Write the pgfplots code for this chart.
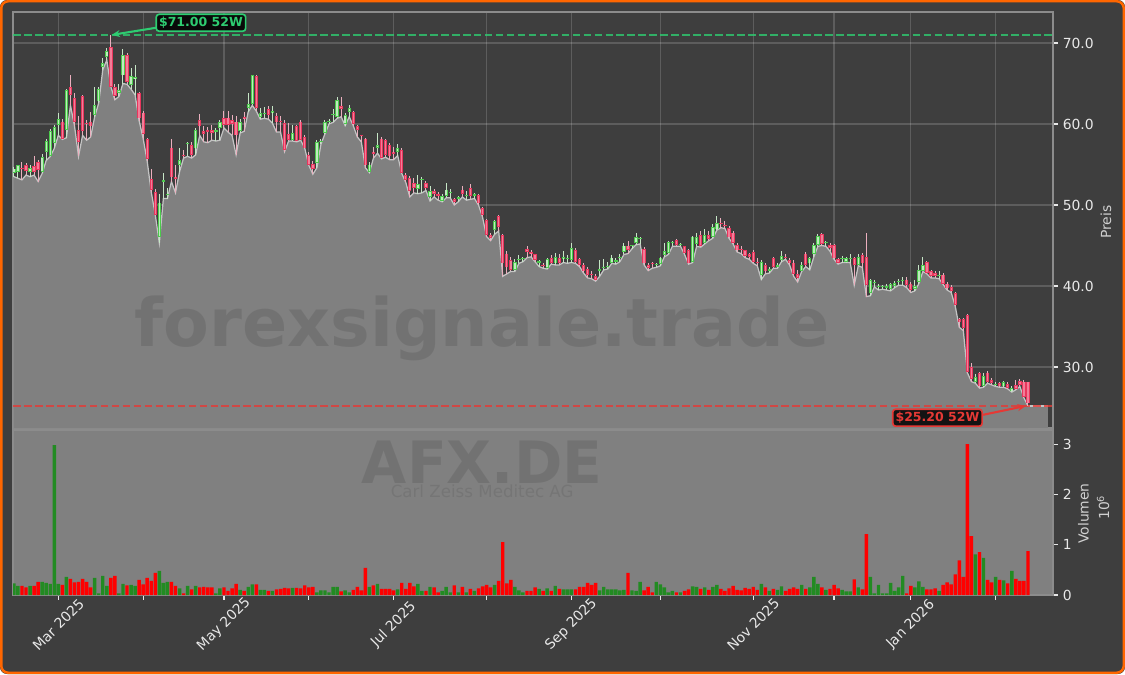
\documentclass[border=0pt]{standalone}
\usepackage{pgfplots}
\pgfplotsset{compat=1.18}
\usepackage{pgfplotstable}
\usepackage{fontspec}
\setmainfont{DejaVu Sans}
\usetikzlibrary{arrows.meta}

\definecolor{figbg}{HTML}{3E3E3E}
\definecolor{frameorange}{HTML}{FF6600}
\definecolor{areagray}{HTML}{808080}
\definecolor{arealine}{HTML}{C4C4C4}
\definecolor{spine}{HTML}{8C8C8C}
\definecolor{ticktext}{HTML}{E8E8E8}
\definecolor{labeltext}{HTML}{D0D0D0}
\definecolor{upedge}{HTML}{4CC94C}
\definecolor{upfill}{HTML}{BFEBBF}
\definecolor{upwick}{HTML}{C6E6C6}
\definecolor{dnedge}{HTML}{E8365D}
\definecolor{dnfill}{HTML}{F27D98}
\definecolor{dnwick}{HTML}{EBAFBE}
\definecolor{volgreen}{HTML}{228B22}
\definecolor{volred}{HTML}{FF0000}
\definecolor{higreen}{HTML}{2ECC71}
\definecolor{lored}{HTML}{E53935}

% i = trading day index (0 = 14 Feb 2025), volume v in millions
\pgfplotstableread{
i o h l c v
0 54.0 54.7 53.5 54.5 0.23
1 54.1 54.9 53.3 54.9 0.18
2 54.6 55.3 53.1 54.4 0.18
3 54.9 55.2 53.7 54.2 0.15
4 54.1 54.9 53.5 54.6 0.18
5 54.8 56.0 53.7 54.1 0.18
6 55.3 55.6 52.9 54.3 0.26
7 54.1 56.3 53.9 55.9 0.26
8 56.6 58.2 55.5 57.9 0.24
9 56.1 59.4 56.0 59.1 0.22
10 57.7 59.9 57.0 59.6 2.98
11 59.9 61.3 58.6 60.6 0.22
12 60.3 60.6 58.1 58.2 0.20
13 59.3 64.3 58.3 64.2 0.36
14 64.6 66.0 62.3 63.6 0.32
15 63.2 63.8 59.8 60.3 0.25
16 59.2 61.0 56.0 57.8 0.26
17 63.4 63.6 58.6 59.1 0.32
18 60.1 60.5 58.0 60.0 0.26
19 60.3 61.5 58.4 59.7 0.15
20 61.1 64.6 60.9 62.3 0.34
21 62.8 64.6 62.6 64.3 0.03
22 67.1 68.1 66.7 67.5 0.38
23 68.3 69.4 67.9 69.0 0.18
24 69.5 71.0 64.6 64.6 0.34
25 64.6 65.0 63.0 63.5 0.38
26 63.8 65.0 63.4 64.2 0.03
27 66.0 69.3 65.0 68.5 0.22
28 68.5 68.8 64.9 65.2 0.19
29 64.8 66.9 64.3 65.9 0.20
30 65.5 67.3 63.6 65.8 0.18
31 63.8 64.0 60.4 60.7 0.30
32 61.4 61.6 58.2 58.8 0.21
33 58.1 58.3 55.4 55.7 0.34
34 53.2 54.5 51.6 51.9 0.28
35 51.6 52.0 48.8 48.8 0.44
36 46.1 51.3 45.3 50.3 0.48
37 52.9 53.9 50.8 53.1 0.24
38 51.2 52.1 50.8 51.4 0.26
39 57.1 58.2 52.9 53.4 0.26
40 53.5 54.9 51.5 53.2 0.18
41 55.0 57.0 54.1 55.5 0.13
42 56.2 56.8 55.8 56.0 0.03
43 57.5 57.8 56.0 57.6 0.18
44 57.4 57.8 55.8 56.2 0.11
45 57.0 59.5 56.2 59.2 0.18
46 60.5 61.2 58.6 59.7 0.15
47 59.1 59.7 57.8 58.8 0.16
48 59.2 59.6 57.7 59.0 0.15
49 59.2 59.9 58.0 58.9 0.15
50 59.0 59.5 57.9 59.2 0.03
51 59.5 60.5 58.0 60.2 0.13
52 60.7 61.6 59.5 59.9 0.15
53 60.8 61.6 59.0 59.9 0.08
54 60.5 61.1 58.6 60.0 0.13
55 60.3 61.0 56.2 58.6 0.22
56 59.1 60.6 58.9 60.2 0.10
57 60.9 61.5 59.1 60.6 0.08
58 62.0 63.8 61.5 62.5 0.16
59 62.5 66.0 62.3 66.0 0.21
60 65.9 66.0 61.6 62.0 0.21
61 60.9 62.0 60.6 61.3 0.10
62 61.2 62.1 60.7 61.4 0.10
63 61.8 62.2 60.6 61.1 0.08
64 61.3 62.2 60.1 61.6 0.08
65 61.0 61.4 59.0 60.2 0.11
66 60.4 61.0 59.0 60.3 0.12
67 60.1 60.5 56.6 56.8 0.14
68 58.8 60.1 57.9 58.0 0.13
69 58.0 59.9 57.9 58.9 0.14
70 59.7 59.9 57.8 57.9 0.14
71 60.3 60.5 58.0 58.0 0.13
72 58.4 58.6 57.0 57.0 0.19
73 56.2 56.6 54.9 55.0 0.15
74 55.1 55.4 53.8 54.5 0.16
75 55.2 58.0 54.6 57.8 0.05
76 57.8 58.2 57.5 57.9 0.09
77 58.9 60.5 58.8 60.2 0.09
78 60.2 60.6 60.0 60.4 0.05
79 61.1 61.8 60.2 61.2 0.16
80 60.9 63.3 60.7 63.0 0.16
81 62.2 63.3 60.9 61.9 0.07
82 60.0 61.3 59.8 61.1 0.09
83 61.5 62.4 60.9 62.0 0.05
84 61.5 61.6 59.8 60.0 0.10
85 59.7 59.9 58.4 59.3 0.16
86 58.6 58.7 57.8 58.5 0.09
87 58.2 58.3 54.6 54.9 0.54
88 54.1 55.3 54.0 55.0 0.16
89 56.6 57.2 55.8 56.3 0.19
90 57.1 58.9 56.4 57.4 0.22
91 58.2 58.4 55.7 55.8 0.12
92 58.0 58.2 55.9 56.2 0.12
93 57.4 57.6 55.6 56.0 0.12
94 56.6 57.2 55.6 56.3 0.09
95 56.6 57.5 56.1 57.0 0.11
96 56.8 57.0 53.9 54.0 0.24
97 53.7 54.0 52.8 53.1 0.12
98 53.3 53.6 51.0 51.7 0.24
99 52.7 53.3 51.5 52.1 0.17
100 52.0 53.7 51.4 52.6 0.22
101 53.1 53.5 51.5 53.1 0.08
102 52.7 53.0 51.8 52.1 0.08
103 51.0 52.3 50.5 51.7 0.16
104 51.7 52.0 51.0 51.4 0.15
105 51.3 51.6 50.6 51.2 0.05
106 50.5 51.3 50.4 51.1 0.08
107 51.1 52.7 50.9 51.9 0.16
108 51.5 52.0 50.9 51.6 0.05
109 50.7 50.9 50.0 50.4 0.19
110 50.8 51.1 50.4 50.8 0.05
111 51.9 52.4 51.0 51.4 0.16
112 51.1 51.7 50.6 51.2 0.05
113 52.1 52.6 50.7 51.1 0.12
114 51.1 51.5 50.8 51.3 0.08
115 51.2 51.3 50.0 50.2 0.13
116 49.6 49.8 48.5 48.8 0.17
117 48.1 48.3 46.1 46.3 0.20
118 46.3 46.6 45.6 45.9 0.15
119 46.9 48.1 46.4 48.0 0.20
120 48.6 48.8 46.8 47.3 0.28
121 46.3 46.4 41.2 42.8 1.05
122 44.0 44.3 41.5 42.3 0.23
123 43.2 43.6 41.8 42.0 0.30
124 42.0 43.3 41.8 43.0 0.16
125 43.2 43.8 42.8 43.3 0.09
126 43.3 43.6 43.0 43.4 0.05
127 44.6 44.9 43.5 44.2 0.08
128 44.2 44.4 43.6 43.9 0.08
129 43.9 44.0 43.0 43.2 0.15
130 42.9 43.2 42.4 42.9 0.12
131 42.6 42.9 42.2 42.5 0.08
132 42.2 43.4 42.1 43.3 0.13
133 43.4 43.8 42.7 42.9 0.08
134 42.8 44.1 42.6 43.6 0.18
135 43.4 44.0 42.6 42.9 0.12
136 43.3 44.3 42.9 43.6 0.11
137 43.3 43.8 42.8 43.3 0.11
138 43.2 45.3 42.9 44.7 0.11
139 44.4 44.7 42.8 43.0 0.11
140 43.3 43.5 42.4 42.6 0.16
141 42.6 42.8 41.6 41.8 0.16
142 42.1 42.3 41.0 41.4 0.24
143 41.5 41.8 40.9 41.4 0.20
144 41.2 41.5 40.6 40.8 0.24
145 41.9 43.2 41.2 42.0 0.09
146 42.2 43.3 42.0 42.4 0.16
147 42.3 43.0 42.1 42.5 0.11
148 42.9 43.8 42.8 43.5 0.11
149 43.0 43.4 42.7 43.2 0.11
150 43.4 44.0 43.0 43.6 0.09
151 44.2 45.3 43.9 45.0 0.10
152 45.0 45.5 44.0 44.5 0.44
153 44.9 45.1 44.6 44.9 0.09
154 45.3 46.5 45.1 46.0 0.08
155 45.8 46.0 45.2 45.8 0.26
156 44.6 44.8 42.6 42.8 0.09
157 42.6 42.9 41.9 42.2 0.16
158 42.8 43.0 42.2 42.7 0.05
159 42.6 42.9 42.3 42.6 0.26
160 42.7 43.6 42.5 43.5 0.21
161 43.8 45.3 43.6 44.3 0.15
162 44.1 45.5 43.9 45.4 0.05
163 45.3 45.6 44.9 45.4 0.08
164 45.7 45.8 44.9 45.1 0.05
165 45.1 45.3 44.9 45.1 0.05
166 44.9 45.0 43.9 44.1 0.08
167 44.4 44.6 42.7 42.8 0.11
168 43.0 46.2 42.9 46.1 0.17
169 45.2 46.6 44.9 46.0 0.16
170 46.3 46.8 44.8 45.0 0.12
171 45.3 47.1 45.2 46.3 0.15
172 46.3 46.8 45.6 45.8 0.10
173 46.1 47.6 45.9 47.3 0.16
174 47.0 48.6 46.9 47.8 0.20
175 47.8 48.4 47.2 47.6 0.12
176 47.5 48.0 47.1 47.4 0.08
177 47.2 47.4 45.9 46.0 0.13
178 46.6 46.8 45.2 45.3 0.18
179 45.1 45.3 44.2 44.4 0.10
180 44.6 45.0 44.0 44.4 0.09
181 44.4 44.5 43.5 43.7 0.14
182 43.9 44.1 43.3 43.6 0.12
183 44.2 44.4 42.8 43.0 0.16
184 43.0 43.4 42.5 42.9 0.10
185 41.4 43.2 40.8 43.0 0.22
186 42.6 42.8 41.5 41.8 0.15
187 41.9 42.3 41.6 42.0 0.08
188 43.4 43.6 42.2 42.4 0.12
189 42.4 42.8 42.2 42.6 0.10
190 43.2 44.3 43.0 43.7 0.17
191 43.6 44.0 43.3 43.5 0.08
192 43.2 43.4 42.6 42.8 0.12
193 42.9 43.2 41.2 41.5 0.15
194 41.5 42.0 40.5 41.0 0.12
195 41.9 43.0 41.8 42.6 0.20
196 44.0 44.2 42.4 42.6 0.12
197 42.8 43.6 42.0 43.4 0.15
198 44.0 45.3 43.6 45.1 0.36
199 45.1 46.4 44.9 46.2 0.22
200 46.4 46.6 45.0 45.2 0.15
201 45.3 45.6 44.9 45.4 0.10
202 45.1 45.3 44.3 44.7 0.12
203 45.1 45.2 43.3 43.4 0.20
204 43.3 43.5 42.7 42.9 0.13
205 43.3 43.7 42.9 43.3 0.10
206 43.0 43.6 42.9 43.4 0.07
207 43.3 43.9 42.9 43.5 0.07
208 43.4 43.6 40.1 42.6 0.31
209 42.6 44.0 42.5 43.6 0.15
210 43.8 44.1 42.3 42.8 0.11
211 43.6 46.6 38.7 40.1 1.21
212 39.1 40.9 38.8 40.7 0.36
213 40.4 40.7 39.9 40.4 0.03
214 39.9 40.2 39.5 40.0 0.20
215 39.9 40.1 39.6 39.9 0.03
216 39.8 40.2 39.5 39.9 0.03
217 39.6 40.4 39.4 40.2 0.24
218 40.0 40.6 39.8 40.4 0.08
219 40.5 40.9 40.1 40.5 0.15
220 40.6 41.1 40.1 40.7 0.38
221 40.8 41.1 39.8 40.1 0.03
222 40.3 40.5 39.2 39.5 0.18
223 39.6 40.7 39.4 40.0 0.15
224 40.5 42.6 40.3 42.0 0.27
225 41.9 43.6 41.8 42.6 0.16
226 43.0 43.1 41.5 41.6 0.11
227 41.8 42.0 41.0 41.2 0.11
228 41.6 41.9 41.0 41.2 0.13
229 41.2 41.9 40.9 41.3 0.08
230 41.4 41.6 40.2 40.3 0.20
231 40.3 40.5 39.5 39.7 0.25
232 39.9 40.1 39.2 39.4 0.21
233 39.1 39.2 37.5 37.7 0.41
234 35.9 36.1 34.9 35.5 0.69
235 35.9 36.0 34.5 34.8 0.36
236 36.4 36.5 29.3 29.4 3.00
237 30.0 30.5 28.2 28.5 1.17
238 28.2 29.1 28.0 28.8 0.81
239 29.2 29.4 27.4 27.6 0.85
240 27.7 29.2 27.5 28.9 0.74
241 29.3 29.5 28.0 28.2 0.30
242 28.4 28.7 27.8 28.0 0.25
243 27.8 28.2 27.6 27.9 0.36
244 28.0 28.2 27.5 27.6 0.30
245 27.6 28.3 27.5 28.1 0.29
246 27.9 28.1 27.3 27.4 0.23
247 27.0 27.6 26.9 27.4 0.48
248 27.8 28.4 27.2 27.3 0.32
249 28.3 28.5 27.6 27.8 0.28
250 28.2 28.4 26.2 26.3 0.28
251 28.2 28.2 25.2 25.5 0.87
}\ohlc

\pgfplotsset{
  upsel/.style={restrict expr to domain={\thisrow{c}-\thisrow{o}}{0:1000}},
  dnsel/.style={restrict expr to domain={\thisrow{c}-\thisrow{o}}{-1000:-0.0001}},
  monthticks/.style={xtick={11,32,52,73,94,117,138,160,183,203,222,243}},
}

\begin{document}
\begin{tikzpicture}
\useasboundingbox (0,0) rectangle (810pt,485.28pt);
\fill[figbg, rounded corners=5pt] (0,0) rectangle (810pt,485.28pt);
\draw[frameorange, line width=1.8pt, rounded corners=5pt] (0.9pt,0.9pt) rectangle (809.1pt,484.38pt);

% price panel
\begin{axis}[
  at={(9.36pt,177.12pt)}, anchor=south west,
  width=748.8pt, height=299.52pt, scale only axis,
  xmin=-0.22, xmax=257.2, ymin=22.47, ymax=73.83,
  clip mode=individual,
  axis line style={draw=spine, line width=0.8pt},
  monthticks, xticklabel={}, xtick style={draw=none},
  ytick={30,40,50,60,70}, yticklabels={30.0,40.0,50.0,60.0,70.0},
  ytick pos=right, yticklabel pos=right,
  tick align=outside, major tick length=3.5pt,
  ytick style={draw=ticktext, line width=0.8pt},
  tick label style={font=\fontsize{10}{12}\selectfont, text=ticktext},
  grid=major, major grid style={draw=white, opacity=0.16, line width=0.8pt},
]
\addplot[fill=areagray, draw=none] table[x=i, y=l] {\ohlc} \closedcycle;
\addplot[fill=areagray, draw=none] coordinates {(251,25.2) (256,25.2)} \closedcycle;
\addplot[arealine, line width=0.9pt] table[x=i, y=l] {\ohlc};
\addplot[arealine, line width=0.9pt] coordinates {(251,25.2) (256,25.2)};

\addplot[higreen, opacity=0.8, line width=1.5pt, dash pattern=on 5.5pt off 2.4pt]
  coordinates {(-0.22,71) (257.2,71)};
\addplot[lored, opacity=0.8, line width=1.5pt, dash pattern=on 5.5pt off 2.4pt]
  coordinates {(-0.22,25.2) (257.2,25.2)};

% wicks
\addplot[upwick, line width=0.7pt, upsel, quiver={u=0, v={\thisrow{h}-\thisrow{l}}}]
  table[x=i, y=l] {\ohlc};
\addplot[dnwick, line width=0.7pt, dnsel, quiver={u=0, v={\thisrow{h}-\thisrow{l}}}]
  table[x=i, y=l] {\ohlc};
% bodies
\addplot[upedge, line width=2.4pt, upsel, quiver={u=0, v={max(\thisrow{c}-\thisrow{o},0.14)}}]
  table[x=i, y=o] {\ohlc};
\addplot[dnedge, line width=2.4pt, dnsel, quiver={u=0, v={min(\thisrow{c}-\thisrow{o},-0.14)}}]
  table[x=i, y=o] {\ohlc};
\addplot[upfill, line width=1.0pt, upsel, quiver={u=0, v={max(\thisrow{c}-\thisrow{o}-0.2,0)}}]
  table[x=i, y expr=\thisrow{o}+0.1] {\ohlc};
\addplot[dnfill, line width=1.0pt, dnsel, quiver={u=0, v={min(\thisrow{c}-\thisrow{o}+0.2,0)}}]
  table[x=i, y expr=\thisrow{o}-0.1] {\ohlc};

\node[text=black, text opacity=0.1, font=\bfseries\fontsize{48}{50}\selectfont]
  at (axis cs:115.9,34.8) {forexsignale.trade};

\draw[higreen, line width=1.5pt, -{Stealth[length=6pt,width=5pt]}]
  (axis cs:35.4,71.9) -- (axis cs:24.2,71.0);
\node[fill=black, fill opacity=0.85, text opacity=1, draw=higreen, draw opacity=1,
  line width=1.2pt, rounded corners=2pt, inner sep=2pt, text=higreen,
  font=\bfseries\fontsize{9}{10}\selectfont] at (axis cs:46.3,72.5) {\$71.00 52W};
\draw[lored, line width=1.5pt, -{Stealth[length=6pt,width=5pt]}]
  (axis cs:239.9,24.1) -- (axis cs:250.5,25.2);
\node[fill=black, fill opacity=0.85, text opacity=1, draw=lored, draw opacity=1,
  line width=1.2pt, rounded corners=2pt, inner sep=2pt, text=lored,
  font=\bfseries\fontsize{9}{10}\selectfont] at (axis cs:228.6,23.74) {\$25.20 52W};
\end{axis}

% volume panel
\begin{axis}[
  at={(9.36pt,56.88pt)}, anchor=south west,
  width=748.8pt, height=118.8pt, scale only axis,
  xmin=-0.22, xmax=257.2, ymin=0, ymax=3.28,
  axis background/.style={fill=areagray},
  axis line style={draw=spine, line width=0.8pt},
  monthticks,
  xticklabels={Mar 2025,,May 2025,,Jul 2025,,Sep 2025,,Nov 2025,,Jan 2026,},
  ytick={0,1,2,3}, yticklabels={0,1,2,3},
  xtick pos=left, ytick pos=right, yticklabel pos=right,
  tick align=outside, major tick length=3.5pt,
  tick style={draw=ticktext, line width=0.8pt},
  tick label style={font=\fontsize{10}{12}\selectfont, text=ticktext},
  xticklabel style={rotate=45, anchor=center, xshift=-12.6pt, yshift=-12.6pt},
  ybar, bar width=0.85, bar shift=0pt,
]
\addplot[fill=volgreen, draw=none, bar shift=0pt, upsel] table[x=i, y=v] {\ohlc};
\addplot[fill=volred, draw=none, bar shift=0pt, dnsel] table[x=i, y=v] {\ohlc};
\node[text=black, text opacity=0.1, font=\bfseries\fontsize{42}{44}\selectfont]
  at (axis cs:115.9,2.64) {AFX.DE};
\node[text=black, text opacity=0.08, font=\fontsize{12}{14}\selectfont]
  at (axis cs:115.9,2.07) {Carl Zeiss Meditec AG};
\end{axis}

\node[rotate=90, text=labeltext, font=\fontsize{10}{12}\selectfont] at (796.3pt,325.4pt) {Preis};
\node[rotate=90, text=labeltext, font=\fontsize{10}{12}\selectfont] at (780.1pt,115.6pt) {Volumen};
\node[rotate=90, text=labeltext, font=\fontsize{10}{12}\selectfont] at (794.2pt,119.9pt) {10\textsuperscript{6}};
\end{tikzpicture}
\end{document}
